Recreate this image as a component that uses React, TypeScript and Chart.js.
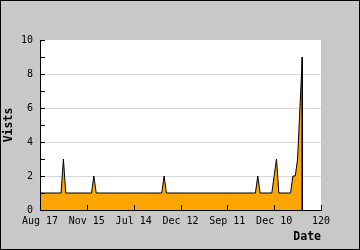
import React, { useEffect, useRef } from "react";
import { Chart, registerables } from "chart.js";

Chart.register(...registerables);

// Data
const dayIndex = [0, 9, 10, 11, 22, 23, 24, 52, 53, 54, 92, 93, 94, 99, 101, 102, 107, 108, 109, 110, 112, 112];
const visits = [1, 1, 3, 1, 1, 2, 1, 1, 2, 1, 1, 2, 1, 1, 3, 1, 1, 2, 2, 3, 9, 0];
const xTickLabels = ["Aug 17", "Nov 15", "Jul 14", "Dec 12", "Sep 11", "Dec 10", "120"];
const yMax = 10;
const xMax = 120;
const xStep = 20;

const MONO = "'DejaVu Sans Mono', monospace";

const framePlugin = {
  id: "frame",
  beforeDraw(chart: any) {
    const { ctx, width, height, chartArea } = chart;
    ctx.save();
    ctx.fillStyle = "#c8c8c8";
    ctx.fillRect(0, 0, width, height);
    ctx.fillStyle = "#000";
    ctx.fillRect(0, 0, width, 1);
    ctx.fillRect(0, height - 1, width, 1);
    ctx.fillRect(0, 0, 1, height);
    ctx.fillRect(width - 1, 0, 1, height);
    ctx.fillStyle = "#fff";
    ctx.fillRect(chartArea.left, chartArea.top, chartArea.right - chartArea.left, chartArea.bottom - chartArea.top);
    ctx.restore();
  },
  afterDatasetsDraw(chart: any) {
    const { ctx, chartArea, scales } = chart;
    const xs = scales.x;
    const ys = scales.y;
    ctx.save();
    ctx.fillStyle = "#000";
    const left = Math.round(chartArea.left);
    const bottom = Math.round(chartArea.bottom);
    const right = Math.round(chartArea.right);
    // axis lines
    ctx.fillRect(left, Math.round(chartArea.top), 1, bottom - Math.round(chartArea.top) + 1);
    ctx.fillRect(left, bottom, right - left + 1, 1);
    // inward ticks
    ys.ticks.forEach((t: any) => {
      const py = Math.round(ys.getPixelForValue(t.value));
      ctx.fillRect(left + 1, py, 4, 1);
    });
    xs.ticks.forEach((t: any) => {
      const px = Math.round(xs.getPixelForValue(t.value));
      ctx.fillRect(px, bottom - 5, 1, 5);
    });
    ctx.restore();
  },
};

export default function App() {
  const ref = useRef<HTMLCanvasElement | null>(null);

  useEffect(() => {
    if (!ref.current) return;
    const points = dayIndex.map((x, i) => ({ x, y: visits[i] }));
    const chart = new Chart(ref.current, {
      type: "line",
      data: {
        datasets: [
          {
            data: points,
            borderColor: "#000",
            borderWidth: 1,
            backgroundColor: "#ffa500",
            fill: "origin",
            tension: 0,
            pointRadius: 0,
          },
        ],
      },
      options: {
        animation: false,
        responsive: false,
        events: [],
        layout: { padding: { left: 0, top: 40, right: 39, bottom: 0 } },
        plugins: { legend: { display: false }, tooltip: { enabled: false } },
        scales: {
          x: {
            type: "linear",
            min: 0,
            max: xMax,
            afterFit: (s: any) => {
              s.height = 40;
            },
            ticks: {
              stepSize: xStep,
              autoSkip: false,
              maxRotation: 0,
              padding: 5,
              color: "#000",
              font: { family: MONO, size: 10 },
              callback: (v: any) => xTickLabels[Math.round(Number(v) / xStep)] ?? "",
            },
            grid: { display: false, drawTicks: false },
            border: { display: false },
            title: {
              display: true,
              text: "Date",
              align: "end",
              color: "#000",
              font: { family: MONO, size: 11.5, weight: "bold" },
              padding: { top: 0, bottom: 6.5 },
            },
          },
          y: {
            min: 0,
            max: yMax,
            afterFit: (s: any) => {
              s.width = 40;
            },
            ticks: {
              stepSize: 1,
              autoSkip: false,
              padding: 7,
              color: "#000",
              font: { family: MONO, size: 10 },
              callback: (v: any) => (Number(v) % 2 === 0 ? String(v) : ""),
            },
            grid: {
              drawTicks: false,
              color: (c: any) => {
                const v = c.tick ? c.tick.value : -1;
                return v % 2 === 0 && v > 0 && v < yMax ? "#d8d8d8" : "rgba(0,0,0,0)";
              },
            },
            border: { display: false },
            title: {
              display: true,
              text: "Vists",
              color: "#000",
              font: { family: MONO, size: 11.5, weight: "bold" },
              padding: { top: 2, bottom: 0 },
            },
          },
        },
      },
      plugins: [framePlugin],
    });
    return () => chart.destroy();
  }, []);

  return (
    <div style={{ position: "absolute", left: 0, top: 0, width: 360, height: 250 }}>
      <canvas ref={ref} width={360} height={250} style={{ display: "block" }} />
    </div>
  );
}
